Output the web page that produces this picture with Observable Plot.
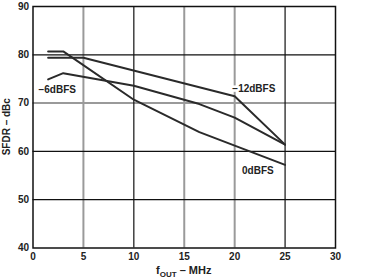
<!DOCTYPE html>
<html>
<head>
<meta charset="utf-8">
<script src="https://cdn.jsdelivr.net/npm/d3@7"></script>
<script src="https://cdn.jsdelivr.net/npm/@observablehq/plot@0.6"></script>
<style>
  html, body { margin: 0; padding: 0; background: #fff; }
  #chart svg { display: block; }
</style>
</head>
<body>
<div id="chart"></div>
<script>
// ---- data ----
const freq0dB = [1.5, 3, 10, 16.5, 25];
const sfdr0dB = [80.7, 80.7, 70.7, 64.0, 57.2];

const freq6dB = [1.5, 3, 10, 16.5, 20, 25];
const sfdr6dB = [74.9, 76.2, 73.6, 69.8, 67.0, 61.4];

const freq12dB = [1.5, 5, 20, 25];
const sfdr12dB = [79.4, 79.4, 71.4, 61.4];

const xTicks = [0, 5, 10, 15, 20, 25, 30];
const yTicks = [40, 50, 60, 70, 80, 90];
const xGridLight = [5, 15, 20];
const xGridDark = [10, 25];
const yGridLight = [70];
const yGridDark = [50, 60, 80];

const seriesLabels = ["0dBFS", "\u22126dBFS", "\u221212dBFS"];
const labelX = [22.3, 2.4, 21.9];
const labelY = [56.0, 72.8, 73.0];

// ---- build tables ----
const toRows = (xs, ys, name) => xs.map((x, i) => ({x, y: ys[i], series: name}));
const lines = [
  ...toRows(freq0dB, sfdr0dB, seriesLabels[0]),
  ...toRows(freq6dB, sfdr6dB, seriesLabels[1]),
  ...toRows(freq12dB, sfdr12dB, seriesLabels[2])
];
const labels = seriesLabels.map((t, i) => ({text: t, x: labelX[i], y: labelY[i]}));

const font = "'Liberation Sans', Arial, Helvetica, sans-serif";

const chart = Plot.plot({
  width: 386,
  height: 279,
  marginLeft: 32.5,
  marginRight: 51,
  marginTop: 6,
  marginBottom: 31.5,
  style: {fontFamily: font, fontSize: "10px", fontWeight: "bold", background: "#fff", color: "#222"},
  x: {domain: [0, 30], ticks: xTicks, tickSize: 0, tickPadding: 5, label: null},
  y: {domain: [40, 90], ticks: yTicks, tickSize: 0, tickPadding: 4, label: null},
  marks: [
    Plot.ruleX(xGridLight, {stroke: "#9a9a9a", strokeWidth: 2}),
    Plot.ruleY(yGridLight, {stroke: "#9a9a9a", strokeWidth: 2}),
    Plot.ruleX(xGridDark, {stroke: "#111", strokeWidth: 1.2}),
    Plot.ruleY(yGridDark, {stroke: "#111", strokeWidth: 1.2}),
    Plot.text(labels, {x: "x", y: "y", text: "text", fill: "#222", fontSize: 10, fontWeight: "bold",
                       stroke: "white", strokeWidth: 5, paintOrder: "stroke"}),
    Plot.line(lines, {x: "x", y: "y", z: "series", stroke: "#2a2a2a", strokeWidth: 2, curve: "linear"}),
    Plot.frame({stroke: "#111", strokeWidth: 1.5}),
    Plot.axisX({ticks: xTicks, tickSize: 0, tickPadding: 5, label: null, fontWeight: "bold"}),
    Plot.axisY({ticks: yTicks, tickSize: 0, tickPadding: 4, label: null, fontWeight: "bold"})
  ]
});

document.getElementById("chart").appendChild(chart);

// axis titles with subscript
const svg = d3.select(chart);
const xl = svg.append("text")
  .attr("x", 183.75).attr("y", 273.5)
  .attr("text-anchor", "middle")
  .attr("font-family", font).attr("font-weight", "bold").attr("font-size", 11)
  .attr("fill", "#222");
xl.append("tspan").text("f");
xl.append("tspan").attr("font-size", 8).attr("dy", 3).text("OUT");
xl.append("tspan").attr("dy", -3).text(" \u2013 MHz");

svg.append("text")
  .attr("transform", "translate(10,126.75) rotate(-90)")
  .attr("text-anchor", "middle")
  .attr("font-family", font).attr("font-weight", "bold").attr("font-size", 10)
  .attr("fill", "#222")
  .text("SFDR \u2013 dBc");
</script>
</body>
</html>
